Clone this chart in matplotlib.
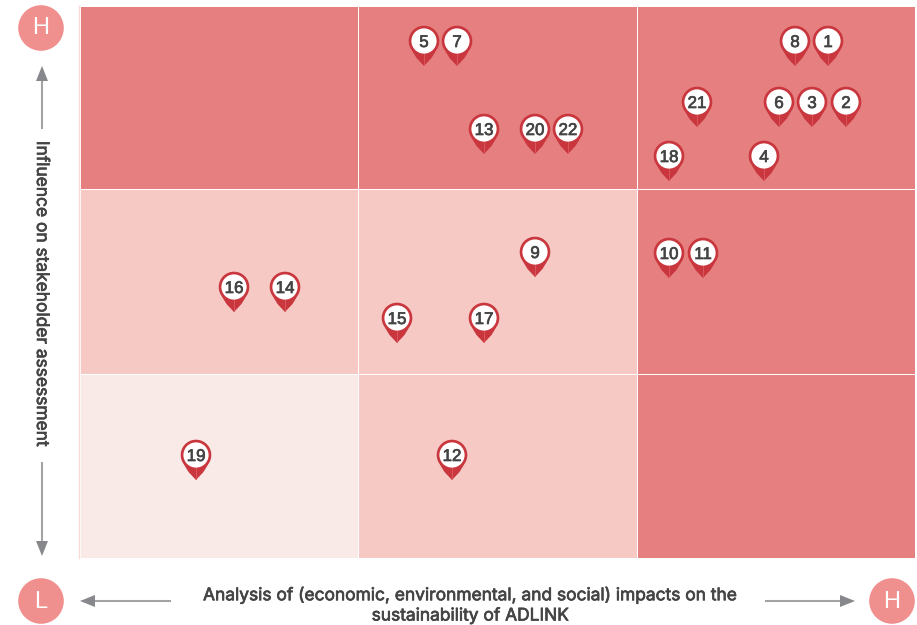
import numpy as np
import matplotlib
matplotlib.use('Agg')
import matplotlib.pyplot as plt
import matplotlib.patheffects as pe
from matplotlib.path import Path
from matplotlib.patches import PathPatch, Circle, Polygon
from matplotlib.colors import ListedColormap
from matplotlib.transforms import Affine2D

plt.rcParams['font.family'] = ['Liberation Sans', 'DejaVu Sans']

# issue positions (pixels, centre of the pin head)
issue_ids = ['1', '2', '3', '4', '5', '6', '7', '8', '9', '10', '11',
             '12', '13', '14', '15', '16', '17', '18', '19', '20', '21', '22']
issue_x = [828, 846, 812, 764, 424, 779, 457, 795, 535, 669, 703,
           452, 484, 285, 397, 234, 484, 669, 196, 535, 697, 568]
issue_y = [41, 102, 102, 156, 41, 102, 41, 41, 252, 253, 253,
           455, 129, 287, 318, 287, 318, 156, 455, 129, 102, 129]

# matrix cells, 2 = high, 1 = mid, 0 = low
x_edges = [80, 358, 636.5, 915]
y_edges = [5.5, 189, 374, 557.5]
levels = [[2, 2, 2],
          [1, 1, 2],
          [0, 1, 2]]
cell_colors = ['#f9e9e7', '#f6c9c4', '#e67f80']

x_title_lines = ['Analysis of (economic, environmental, and social) impacts on the',
                 'sustainability of ADLINK']
y_title = 'Influence on stakeholder assessment'

PIN_RED = '#c9363d'
PIN_SEAM = '#d9575c'
TEXT = '#444444'
ARROW_LINE = '#a3a3a5'
ARROW_HEAD = '#87888c'
BADGE = '#f0908e'

medium = [pe.withStroke(linewidth=0.5, foreground=TEXT)]
title_font = ['Inter', 'Liberation Sans']


def pin_shape():
    # pin outline with the head centre at 0,0
    r = 15.3
    a = np.radians(np.linspace(28, 152, 40) + 180)
    head = [(r * np.cos(t), r * np.sin(t)) for t in a]
    a2 = np.radians(np.linspace(-28, 28, 12))
    right = [(r * np.cos(t), r * np.sin(t)) for t in a2]
    left = [(-x, y) for x, y in reversed(right)]
    verts = head + right + [(7.5, 17), (0, 25)] + [(-7.5, 17)] + left
    return Path(verts + [verts[0]], closed=True)


fig = plt.figure(figsize=(9.17, 6.25), dpi=100)
ax = fig.add_axes([0, 0, 1, 1])
ax.set_xlim(0, 917)
ax.set_ylim(625, 0)
ax.axis('off')

ax.plot([79, 79], [6, 558], color='#f7dcd9', lw=1)
ax.pcolormesh(x_edges, y_edges, levels, cmap=ListedColormap(cell_colors),
              vmin=0, vmax=2, edgecolors='white', linewidth=0.7)

pin = pin_shape()
for name, x, y in zip(issue_ids, issue_x, issue_y):
    move = Affine2D().translate(x, y) + ax.transData
    ax.add_patch(PathPatch(pin, fc=PIN_RED, ec='none', transform=move, zorder=3))
    ax.plot([x, x], [y + 12, y + 24], color=PIN_SEAM, lw=0.7, zorder=3)
    ax.add_patch(Circle((x, y), 12.6, fc='white', ec='none', zorder=4))
    ax.text(x, y, name, ha='center', va='center_baseline', fontsize=12.2,
            color=TEXT, zorder=5, path_effects=medium)

# corner badges
for label, x, y in [('H', 41, 28), ('L', 41, 601), ('H', 892, 601)]:
    ax.add_patch(Circle((x, y), 22.8, fc=BADGE, ec='none'))
    ax.text(x, y + 0.5, label, ha='center', va='center', fontsize=17, color='white')


def arrow(start, tip):
    start = np.array(start, dtype=float)
    tip = np.array(tip, dtype=float)
    d = (tip - start) / np.linalg.norm(tip - start)
    n = np.array([-d[1], d[0]])
    base = tip - d * 15
    ax.plot([start[0], base[0]], [start[1], base[1]], color=ARROW_LINE, lw=1.5,
            solid_capstyle='butt')
    ax.add_patch(Polygon([tip, base + n * 6, base - n * 6], fc=ARROW_HEAD, ec='none'))


arrow((42, 129), (42, 66))
arrow((42, 462), (42, 556))
arrow((171, 601), (80, 601))
arrow((765, 601), (855, 601))

for line, y in zip(x_title_lines, [595, 616]):
    ax.text(470, y, line, ha='center', va='center', fontsize=12.5, color=TEXT,
            family=title_font, path_effects=medium)
ax.text(41.5, 294, y_title, ha='center', va='center', rotation=270, fontsize=12.5,
        color=TEXT, family=title_font, path_effects=medium)

fig.savefig('out.png', dpi=100)
